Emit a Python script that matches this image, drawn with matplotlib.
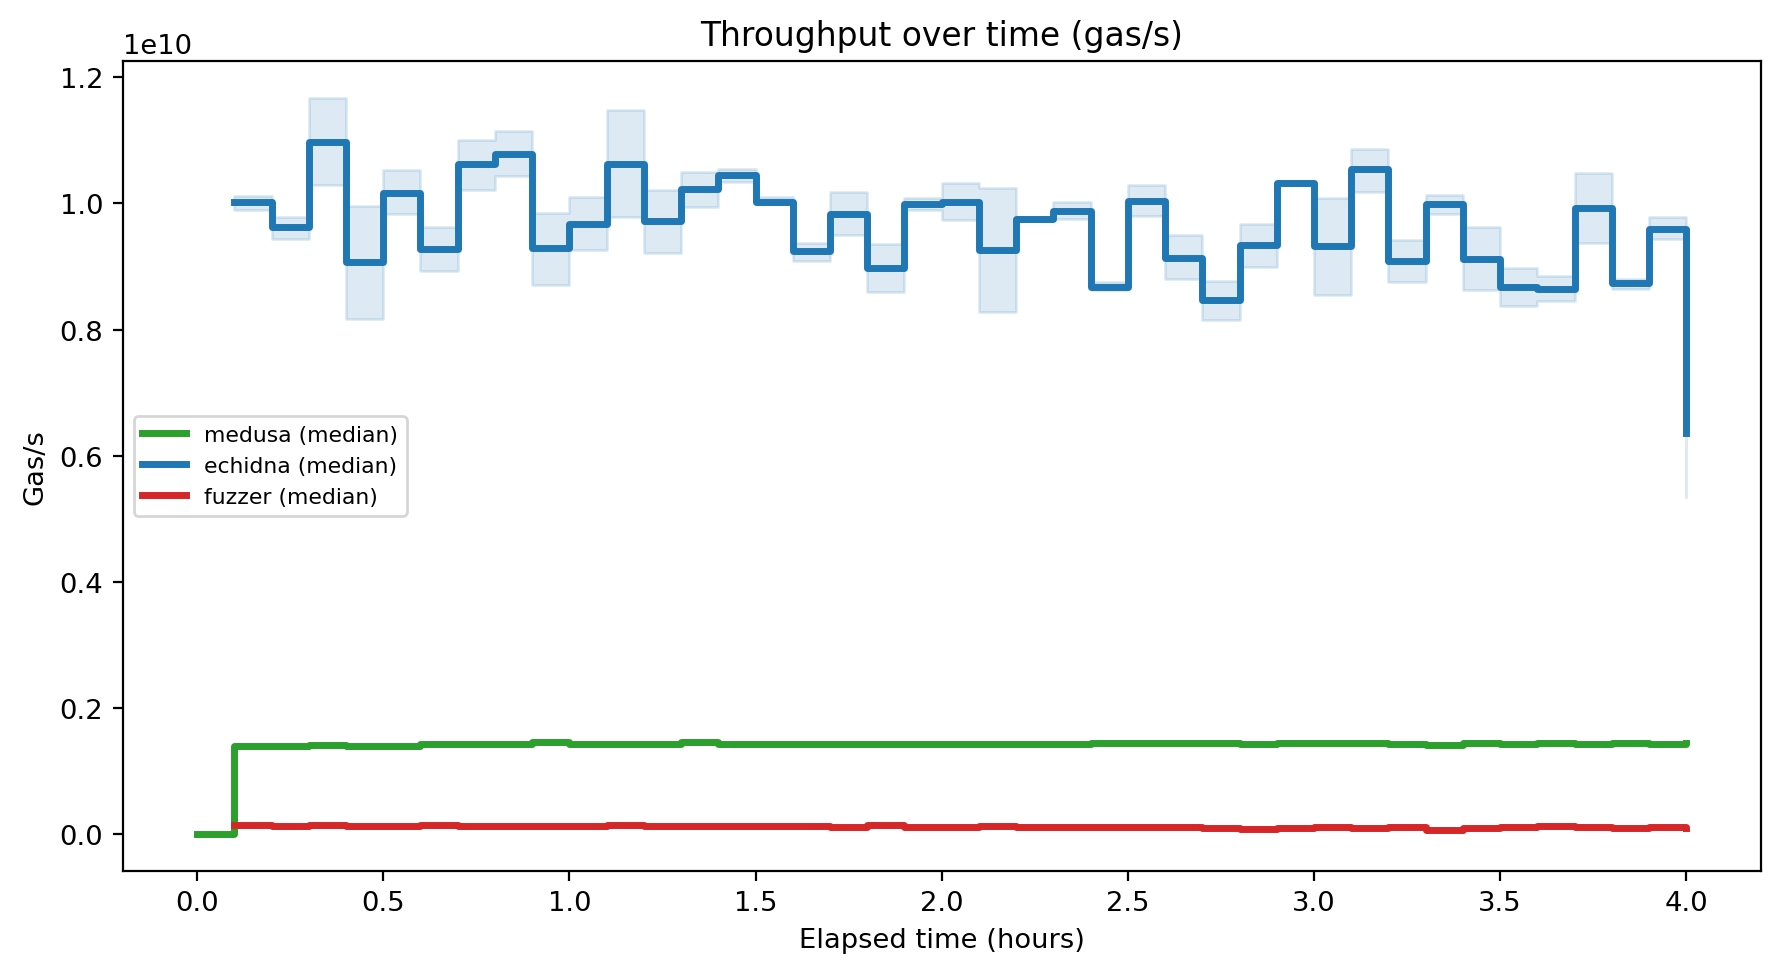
import matplotlib
matplotlib.use("Agg")
import matplotlib.pyplot as plt
import numpy as np

# elapsed time in hours (sample grid)
hours = [0.0, 0.1, 0.2, 0.3, 0.4, 0.5, 0.6, 0.7, 0.8, 0.9, 1.0,
         1.1, 1.2, 1.3, 1.4, 1.5, 1.6, 1.7, 1.8, 1.9, 2.0,
         2.1, 2.2, 2.3, 2.4, 2.5, 2.6, 2.7, 2.8, 2.9, 3.0,
         3.1, 3.2, 3.3, 3.4, 3.5, 3.6, 3.7, 3.8, 3.9, 4.0]

# throughput, units of 1e10 gas/s
medusa_median = [0.0, 0.139, 0.139, 0.1413, 0.139, 0.139, 0.1434, 0.1434, 0.1429, 0.146, 0.143,
                 0.143, 0.143, 0.1455, 0.143, 0.143, 0.143, 0.143, 0.143, 0.143, 0.143,
                 0.143, 0.143, 0.143, 0.1445, 0.1445, 0.1445, 0.1445, 0.143, 0.1445, 0.1445,
                 0.1445, 0.143, 0.1407, 0.1445, 0.143, 0.1445, 0.143, 0.1445, 0.143, 0.1445]

echidna_median = [1.002, 0.963, 1.097, 0.907, 1.017, 0.928, 1.062, 1.079, 0.929, 0.968,
                  1.063, 0.972, 1.023, 1.045, 1.002, 0.925, 0.984, 0.897, 0.999, 1.003,
                  0.926, 0.976, 0.988, 0.867, 1.004, 0.914, 0.847, 0.934, 1.033, 0.932,
                  1.054, 0.909, 0.999, 0.912, 0.867, 0.865, 0.993, 0.874, 0.960, 0.636]
echidna_low = [0.989, 0.943, 1.029, 0.816, 0.983, 0.893, 1.021, 1.043, 0.870, 0.926,
               0.979, 0.922, 0.995, 1.034, 1.000, 0.909, 0.950, 0.860, 0.989, 0.974,
               0.828, 0.973, 0.976, 0.863, 0.980, 0.880, 0.815, 0.900, 1.030, 0.855,
               1.019, 0.876, 0.983, 0.862, 0.837, 0.846, 0.937, 0.864, 0.943, 0.535]
echidna_high = [1.012, 0.979, 1.167, 0.996, 1.053, 0.962, 1.100, 1.115, 0.985, 1.011,
                1.149, 1.021, 1.050, 1.055, 1.011, 0.938, 1.018, 0.936, 1.009, 1.033,
                1.024, 0.979, 1.003, 0.876, 1.030, 0.950, 0.877, 0.968, 1.036, 1.008,
                1.087, 0.942, 1.014, 0.963, 0.898, 0.885, 1.049, 0.881, 0.978, 0.700]

fuzzer_median = [0.0146, 0.0124, 0.0146, 0.0124, 0.0124, 0.0146, 0.0124, 0.0124, 0.0124, 0.0124,
                 0.015, 0.0124, 0.0124, 0.0124, 0.0124, 0.0124, 0.011, 0.0135, 0.011, 0.011,
                 0.013, 0.011, 0.011, 0.011, 0.011, 0.011, 0.0103, 0.0082, 0.0103, 0.0114,
                 0.009, 0.011, 0.0071, 0.009, 0.011, 0.0124, 0.011, 0.009, 0.0107, 0.009]

scale = 1e10
t_all = np.array(hours)
t_run = t_all[1:]

plt.rcParams["font.size"] = 9.86

fig, ax = plt.subplots(figsize=(8.9, 4.89), dpi=200)
fig.subplots_adjust(left=0.0689, right=0.9892, top=0.9362, bottom=0.1086)

ax.plot(t_all, np.array(medusa_median) * scale, drawstyle="steps-post",
        color="tab:green", lw=2.5, label="medusa (median)")

ax.fill_between(t_run, np.array(echidna_low) * scale, np.array(echidna_high) * scale,
                step="post", color="tab:blue", alpha=0.15)
ax.plot(t_run, np.array(echidna_median) * scale, drawstyle="steps-post",
        color="tab:blue", lw=2.5, label="echidna (median)")

ax.plot(t_run, np.array(fuzzer_median) * scale, drawstyle="steps-post",
        color="tab:red", lw=2.5, label="fuzzer (median)")

ax.set_xlabel("Elapsed time (hours)")
ax.set_ylabel("Gas/s")
ax.set_title("Throughput over time (gas/s)")
ax.legend(loc="center left", fontsize=7.9)

fig.savefig("out.png", dpi=200)
